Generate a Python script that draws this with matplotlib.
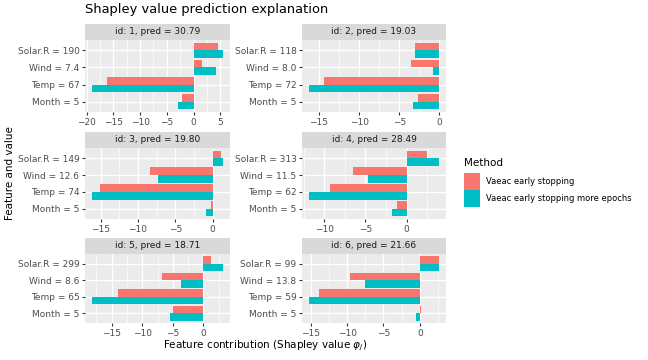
import matplotlib
matplotlib.use("Agg")
import matplotlib.pyplot as plt
import numpy as np
from matplotlib.patches import Rectangle
from matplotlib.ticker import MultipleLocator

# data
features = ["Solar.R", "Wind", "Temp", "Month"]
methods = ["Vaeac early stopping", "Vaeac early stopping more epochs"]
colors = ["#F8766D", "#00BFC4"]

ids = [1, 2, 3, 4, 5, 6]
preds = ["30.79", "19.03", "19.80", "28.49", "18.71", "21.66"]
feat_values = [
    ["190", "7.4", "67", "5"],
    ["118", "8.0", "72", "5"],
    ["149", "12.6", "74", "5"],
    ["313", "11.5", "62", "5"],
    ["299", "8.6", "65", "5"],
    ["99", "13.8", "59", "5"],
]
# shapley values per id, order: Solar.R, Wind, Temp, Month
phi_early = [
    [4.5, 1.5, -16.2, -2.2],
    [-3.0, -3.5, -14.4, -2.7],
    [1.07, -8.4, -15.1, -0.27],
    [2.5, -6.5, -9.3, -1.2],
    [1.3, -6.8, -13.9, -5.0],
    [2.6, -9.6, -13.8, 0.14],
]
phi_more = [
    [5.6, 4.2, -19.1, -3.0],
    [-3.0, -0.8, -16.3, -3.35],
    [1.43, -7.3, -16.2, -0.94],
    [4.0, -4.7, -11.9, -1.8],
    [3.3, -3.7, -18.3, -5.5],
    [2.7, -7.5, -15.3, -0.55],
]

W, H = 648, 360
fig = plt.figure(figsize=(W / 100, H / 100), dpi=100)

col_x = [(85, 230), (302, 446)]
row_y = [(24, 40, 112), (132, 148, 219), (238, 254, 323)]  # strip top, panel top, panel bottom

def fx(px):
    return px / W

def fy(py):
    return 1 - py / H

tick_col = "#4D4D4D"
for k in range(6):
    r, c = divmod(k, 2)
    x0, x1 = col_x[c]
    st, pt, pb = row_y[r]
    ax = fig.add_axes([fx(x0), fy(pb), fx(x1 - x0), (pb - pt) / H])
    ax.set_facecolor("#EBEBEB")
    ypos = np.arange(len(features))[::-1] + 1
    ax.barh(ypos + 0.225, phi_early[k], height=0.45, color=colors[0], zorder=3)
    ax.barh(ypos - 0.225, phi_more[k], height=0.45, color=colors[1], zorder=3)
    vals = phi_early[k] + phi_more[k] + [0]
    lo, hi = min(vals), max(vals)
    pad = 0.05 * (hi - lo)
    ax.set_xlim(lo - pad, hi + pad)
    ax.set_ylim(0.4, 4.6)
    ax.xaxis.set_major_locator(MultipleLocator(5))
    ax.xaxis.set_minor_locator(MultipleLocator(2.5))
    ax.set_yticks(ypos)
    ax.set_yticklabels([f"{f} = {v}" for f, v in zip(features, feat_values[k])])
    ax.grid(which="major", color="white", lw=1.0, zorder=0)
    ax.grid(which="minor", axis="x", color="white", lw=0.5, zorder=0)
    ax.set_axisbelow(True)
    for s in ax.spines.values():
        s.set_visible(False)
    ax.tick_params(which="major", length=2.5, width=0.8, color="#333333",
                   labelsize=6.5, labelcolor=tick_col, pad=1.5)
    ax.tick_params(which="minor", length=0)
    # strip
    sax = fig.add_axes([fx(x0), fy(pt), fx(x1 - x0), (pt - st) / H])
    sax.set_facecolor("#D9D9D9")
    sax.set_xticks([])
    sax.set_yticks([])
    for s in sax.spines.values():
        s.set_visible(False)
    sax.text(0.5, 0.5, f"id: {ids[k]}, pred = {preds[k]}", ha="center", va="center",
             fontsize=6.5, color="#1A1A1A", transform=sax.transAxes)

fig.text(fx(85), fy(10), "Shapley value prediction explanation", fontsize=9.4,
         ha="left", va="center", color="black")
fig.text(fx((85 + 446) / 2), fy(346), "Feature contribution (Shapley value $\\varphi_j$)",
         fontsize=7.5, ha="center", va="center")
fig.text(fx(10), fy(173), "Feature and value", fontsize=7.5, rotation=90,
         ha="center", va="center")

# legend drawn by hand, ggplot style
fig.text(fx(464), fy(163), "Method", fontsize=7.5, ha="left", va="center")
for i, (m, col) in enumerate(zip(methods, colors)):
    top = 173 + i * 17.5
    fig.add_artist(Rectangle((fx(464), fy(top + 16.5)), fx(16.5), 16.5 / H,
                             facecolor=col, edgecolor="none",
                             transform=fig.transFigure))
    fig.text(fx(486), fy(top + 8.25), m, fontsize=6, ha="left", va="center")

fig.savefig("out.png", dpi=100)
